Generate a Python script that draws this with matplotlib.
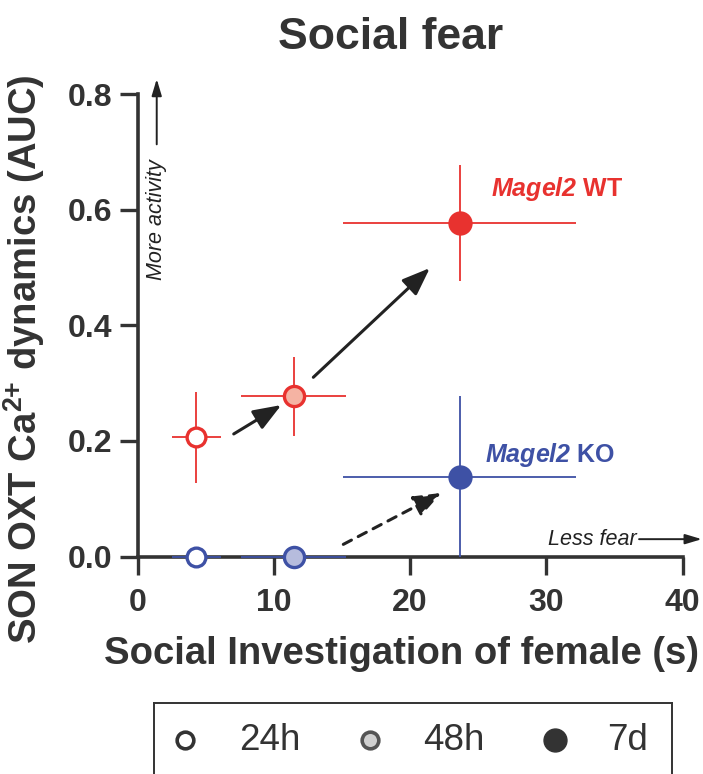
import matplotlib
matplotlib.use("Agg")
import matplotlib.pyplot as plt

plt.rcParams['font.family'] = ['Liberation Sans', 'DejaVu Sans']
plt.rcParams['mathtext.fontset'] = 'custom'
plt.rcParams['mathtext.rm'] = 'Liberation Sans'
plt.rcParams['mathtext.bf'] = 'Liberation Sans:bold'
plt.rcParams['mathtext.it'] = 'Liberation Sans:italic'
plt.rcParams['mathtext.bfit'] = 'Liberation Sans:bold:italic'

# ---- data ----
timepoints = ["24h", "48h", "7d"]
wt_x = [4.3, 11.45, 23.65]
wt_x_err = [1.8, 3.85, 8.55]
wt_y = [0.206, 0.277, 0.577]
wt_y_err = [0.078, 0.068, 0.100]

ko_x = [4.3, 11.45, 23.65]
ko_x_err = [1.8, 3.85, 8.55]
ko_y = [0.0, 0.0, 0.138]
ko_y_err = [0.0, 0.0, 0.139]

x_ticks = [0, 10, 20, 30, 40]
y_ticks = [0.0, 0.2, 0.4, 0.6, 0.8]

RED = "#E8322F"
BLUE = "#3E51A5"
DARK = "#333333"
wt_faces = ["white", "#F5B3A3", RED]
ko_faces = ["white", "#B6BCDD", BLUE]
sizes = [13.5, 14.5, 16]

fig = plt.figure(figsize=(7.03, 7.74), dpi=100)
ax = fig.add_axes([0.1956, 0.281, 0.7755, 0.5975])

def draw(xs, xe, ys, ye, color, faces):
    for i in range(3):
        ax.errorbar(xs[i], ys[i], xerr=xe[i], yerr=ye[i] if ye[i] > 0 else None,
                    fmt='none', ecolor=color, elinewidth=1.3, capsize=0,
                    zorder=3, clip_on=False)
        ax.plot(xs[i], ys[i], 'o', ms=sizes[i], mfc=faces[i], mec=color,
                mew=2.4 if i < 2 else 1.5, zorder=4, clip_on=False)

draw(wt_x, wt_x_err, wt_y, wt_y_err, RED, wt_faces)
draw(ko_x, ko_x_err, ko_y, ko_y_err, BLUE, ko_faces)

# arrows
arrow_kw = dict(arrowstyle='-|>,head_length=1.7,head_width=0.65', color='#222222', lw=2.2,
                shrinkA=0, shrinkB=0)
ax.annotate("", xy=(10.55, 0.262), xytext=(7.06, 0.212), arrowprops=arrow_kw)
ax.annotate("", xy=(21.45, 0.499), xytext=(12.9, 0.31), arrowprops=arrow_kw)
dash_kw = dict(arrow_kw)
dash_kw['linestyle'] = (0, (3, 2.5))
ax.annotate("", xy=(22.3, 0.11), xytext=(15.1, 0.021), arrowprops=dash_kw)

# group labels
ax.text(25.9, 0.636, r"$\mathbfit{Magel2}$" + " WT", color=RED, fontsize=18,
        fontweight='bold', ha='left', va='center')
ax.text(25.5, 0.176, r"$\mathbfit{Magel2}$" + " KO", color=BLUE, fontsize=18,
        fontweight='bold', ha='left', va='center')

# direction hints
small_arrow = dict(arrowstyle='-|>,head_length=1.0,head_width=0.3',
                   color='#222222', lw=1.4, shrinkA=0, shrinkB=0)
ax.annotate("", xy=(1.41, 0.826), xytext=(1.41, 0.713),
            arrowprops=small_arrow, annotation_clip=False)
ax.text(1.41, 0.583, "More activity", rotation=90, style='italic', fontsize=15.5,
        color='#222222', ha='center', va='center')
ax.text(33.35, 0.03, "Less fear", style='italic', fontsize=15.5, color='#222222',
        ha='center', va='center')
ax.annotate("", xy=(41.4, 0.03), xytext=(36.8, 0.03),
            arrowprops=small_arrow, annotation_clip=False)

# axes styling
ax.set_xlim(0, 40)
ax.set_ylim(0, 0.8)
ax.set_xticks(x_ticks)
ax.set_yticks(y_ticks)
ax.set_xticklabels([str(t) for t in x_ticks])
ax.set_yticklabels([f"{t:.1f}" for t in y_ticks])
for s in ['top', 'right']:
    ax.spines[s].set_visible(False)
for s in ['left', 'bottom']:
    ax.spines[s].set_linewidth(2.6)
    ax.spines[s].set_color(DARK)
ax.tick_params(axis='both', which='major', length=13, width=2.4, color=DARK,
               labelsize=23, labelcolor=DARK)
ax.tick_params(axis='x', pad=10)
ax.tick_params(axis='y', pad=5)
for lab in ax.get_xticklabels() + ax.get_yticklabels():
    lab.set_fontweight('bold')

ax.set_xlabel("Social Investigation of female (s)", fontsize=27.5, fontweight='bold',
              color=DARK)
ax.xaxis.set_label_coords(0.484, -0.172)
ax.set_ylabel(r"SON OXT Ca$^{\mathbf{2{+}}}$ dynamics (AUC)", fontsize=27.5,
              fontweight='bold', color=DARK)
ax.yaxis.set_label_coords(-0.166, 0.427)

fig.text(0.555, 0.951, "Social fear", fontsize=32, fontweight='bold', color=DARK,
         ha='center', va='center')

# legend (manual box, bottom edge runs past the figure)
lax = fig.add_axes([0.219, -0.05, 0.737, 0.1417])
lax.set_xlim(0, 1)
lax.set_ylim(0, 1)
lax.set_xticks([])
lax.set_yticks([])
lax.patch.set_alpha(0)
for s in lax.spines.values():
    s.set_color(DARK)
    s.set_linewidth(1.4)
leg_y = 0.66
leg_mx = [0.060, 0.417, 0.774]
leg_tx = [0.223, 0.579, 0.915]
leg_face = ['white', '#D0D0D0', DARK]
leg_edge = [DARK, '#555555', DARK]
leg_ms = [12, 12, 16.5]
for i, lab in enumerate(timepoints):
    lax.plot(leg_mx[i], leg_y, 'o', ms=leg_ms[i], mfc=leg_face[i], mec=leg_edge[i],
             mew=2.6 if i < 2 else 1)
    lax.text(leg_tx[i], leg_y, lab, fontsize=26.5, color=DARK, ha='center', va='center')

fig.savefig("out.png", dpi=100)
